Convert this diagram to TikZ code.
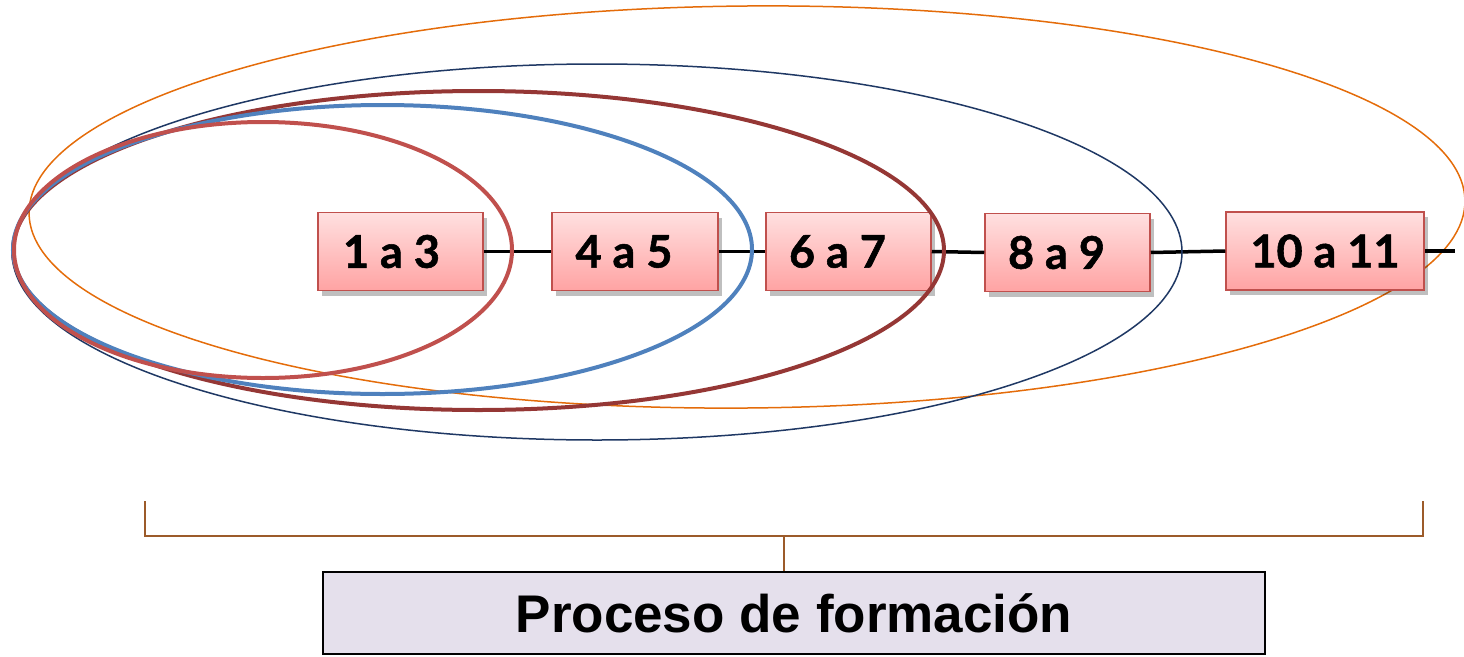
\documentclass[tikz,border=0pt]{standalone}
\usepackage{fontspec}
\setmainfont{Liberation Sans}
\newfontfamily\boxfont[BoldFeatures={FakeBold=1.2}]{Lato}
\usetikzlibrary{shadows}
\definecolor{boxborder}{HTML}{C0504D}
\definecolor{boxtop}{HTML}{FFE0E0}
\definecolor{boxbot}{HTML}{FFA3A3}
\definecolor{ellred}{HTML}{C0504D}
\definecolor{ellblue}{HTML}{4F81BD}
\definecolor{elldark}{HTML}{953735}
\definecolor{ellnavy}{HTML}{1F3864}
\definecolor{ellorange}{HTML}{E46C0A}
\definecolor{bracketc}{HTML}{9C5B2A}
\definecolor{procfill}{HTML}{E5E0EC}
\begin{document}
\begin{tikzpicture}[x=1pt,y=-1pt,
  stage/.style={draw=boxborder, line width=1.5pt, top color=boxtop, bottom color=boxbot,
    minimum height=78pt, inner sep=0pt,
    font=\boxfont\bfseries\fontsize{45}{45}\selectfont,
    drop shadow={shadow xshift=4pt, shadow yshift=-5pt, fill=black, opacity=0.25}},
  link/.style={line width=3.5pt, black},
  thickell/.style={line width=4pt},
  thinell/.style={line width=1.5pt},
  bracket/.style={draw=bracketc, line width=1.5pt},
  procbox/.style={draw=black, line width=1.5pt, fill=procfill, minimum width=942pt,
    minimum height=82pt, inner sep=0pt, font=\bfseries\fontsize{53}{53}\selectfont}]
\useasboundingbox (0,0) rectangle (1464,656);
% outer orange ellipse (behind the boxes)
\draw[thinell, draw=ellorange, rotate around={0.5:(747,207)}] (747,207) ellipse [x radius=718, y radius=201];
% stage boxes
\node[stage, minimum width=165pt] (b1) at (400.5,251.5) {1 a 3\hspace*{18pt}};
\node[stage, minimum width=166pt] (b2) at (635,251.5) {4 a 5\hspace*{22pt}};
\node[stage, minimum width=165pt] (b3) at (848.5,251.5) {6 a 7\hspace*{22pt}};
\node[stage, minimum width=165pt] (b4) at (1067.5,252.5) {8 a 9\hspace*{22pt}};
\node[stage, minimum width=198pt] (b5) at (1325,251) {10 a 11};
\coordinate (lend) at (1455,251);
\draw[link] (b1.east) -- (b2.west);
\draw[link] (b2.east) -- (b3.west);
\draw[link] (b3.east) -- (b4.west);
\draw[link] (b4.east) -- (b5.west);
\draw[link] (b5.east) -- (lend);
% nested ellipses
\draw[thinell, draw=ellnavy] (597,252) ellipse [x radius=585, y radius=188];
\draw[thickell, draw=elldark] (478.5,250.5) ellipse [x radius=465.5, y radius=159.5];
\draw[thickell, draw=ellblue] (382.5,249.5) ellipse [x radius=369.5, y radius=144.5];
\draw[thickell, draw=ellred] (263,250) ellipse [x radius=249, y radius=128];
% bracket and process box
\node[procbox] (proc) at (794,613) {\raisebox{-3pt}{Proceso de formación}};
\coordinate (bl) at (145,501);
\coordinate (br) at (1423,501);
\coordinate (bm) at (784,536);
\draw[bracket] (bl) -- (bl |- bm) -- (br |- bm) -- (br);
\draw[bracket] (bm) -- (bm |- proc.north);
\end{tikzpicture}
\end{document}
